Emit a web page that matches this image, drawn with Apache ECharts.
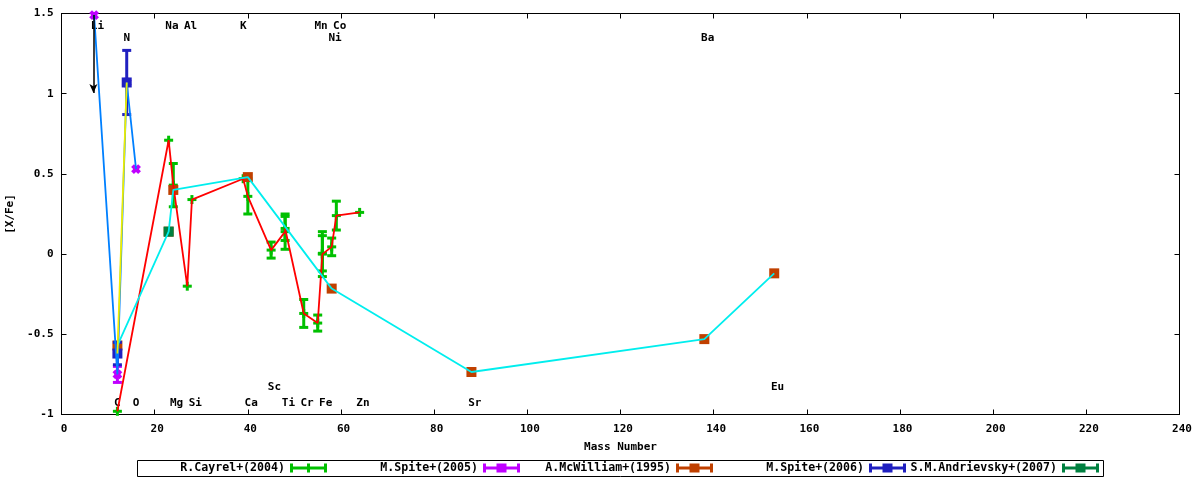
<!DOCTYPE html>
<html><head><meta charset="utf-8">
<script src="https://cdn.jsdelivr.net/npm/echarts@6/dist/echarts.min.js"></script>
<style>html,body{margin:0;padding:0;background:#fff}#c{width:1200px;height:480px}</style>
</head><body><div id="c"></div>
<script>
// ---- data ----
const cayrelMass = [12, 23, 24, 27, 28, 39, 40, 45, 48, 48, 52, 55, 56, 56, 58, 59, 64];
const cayrelVal  = [-0.98, 0.71, 0.43, -0.20, 0.34, 0.47, 0.36, 0.025, 0.14, 0.16, -0.37, -0.43, 0.0, 0.005, 0.045, 0.24, 0.26];
const cayrelErr  = [0, 0, 0.135, 0, 0, 0, 0.11, 0.05, 0.11, 0.075, 0.087, 0.05, 0.14, 0.11, 0.055, 0.09, 0];

const spite05Mass = [7, 12, 14, 16];
const spite05Val  = [1.49, -0.75, 1.07, 0.53];
const spite05Err  = [0, 0.05, 0, 0];

const mcwMass = [12, 23, 24, 40, 58, 88, 138, 153];
const mcwVal  = [-0.57, 0.14, 0.40, 0.48, -0.215, -0.735, -0.53, -0.12];
const mcwErr  = [0, 0, 0, 0, 0, 0, 0, 0];

const spite06Mass = [12, 14];
const spite06Val  = [-0.62, 1.07];
const spite06Err  = [0.07, 0.20];

const andrMass = [23];
const andrVal  = [0.14];
const andrErr  = [0];

// Li upper-limit arrow
const arrowMass = 6.85;
const arrowFrom = 1.49;
const arrowTo = 1.005;

// element labels
const elemNames = ['Li','Na','Al','K','Mn','Co','N','Ni','Ba','C','O','Mg','Si','Ca','Ti','Cr','Fe','Zn','Sr','Sc','Eu'];
const elemMass  = [7, 23, 27, 39, 55, 59, 14, 58, 138, 12, 16, 24, 28, 40, 48, 52, 56, 64, 88, 45, 153];
const elemY     = [1.42,1.42,1.42,1.42,1.42,1.42,1.345,1.345,1.345,-0.93,-0.93,-0.93,-0.93,-0.93,-0.93,-0.93,-0.93,-0.93,-0.93,-0.83,-0.83];

const xTicks = {min: 0, max: 240, interval: 20};
const yTicks = {min: -1, max: 1.5, interval: 0.5};

const seriesNames = ['R.Cayrel+(2004)', 'M.Spite+(2005)', 'A.McWilliam+(1995)', 'M.Spite+(2006)', 'S.M.Andrievsky+(2007)'];

// ---- helpers ----
const FONT = '"DejaVu Sans Mono", "Liberation Mono", monospace';
function zip3(a, b, c) { return a.map((v, i) => [v, b[i], c[i]]); }
function zip2(a, b) { return a.map((v, i) => [v, b[i]]); }

function errRender(shape, color) {
  return function (params, api) {
    const x = api.value(0), y = api.value(1), e = api.value(2);
    const p = api.coord([x, y]);
    const ch = [];
    const st = {stroke: color, lineWidth: 3, fill: null};
    if (e > 0) {
      const pt = api.coord([x, y + e]), pb = api.coord([x, y - e]);
      ch.push({type: 'line', shape: {x1: p[0], y1: pt[1], x2: p[0], y2: pb[1]}, style: st});
      ch.push({type: 'line', shape: {x1: p[0] - 4.5, y1: pt[1], x2: p[0] + 4.5, y2: pt[1]}, style: st});
      ch.push({type: 'line', shape: {x1: p[0] - 4.5, y1: pb[1], x2: p[0] + 4.5, y2: pb[1]}, style: st});
    }
    if (shape === 'plus') {
      ch.push({type: 'rect', shape: {x: p[0] - 4.5, y: p[1] - 1.5, width: 9, height: 3}, style: {fill: color}});
      ch.push({type: 'rect', shape: {x: p[0] - 1.5, y: p[1] - 4.5, width: 3, height: 9}, style: {fill: color}});
    } else if (shape === 'x') {
      ch.push({type: 'line', shape: {x1: p[0] - 3.5, y1: p[1] - 3.5, x2: p[0] + 3.5, y2: p[1] + 3.5}, style: {stroke: color, lineWidth: 4}});
      ch.push({type: 'line', shape: {x1: p[0] - 3.5, y1: p[1] + 3.5, x2: p[0] + 3.5, y2: p[1] - 3.5}, style: {stroke: color, lineWidth: 4}});
      ch.push({type: 'rect', shape: {x: p[0] - 3, y: p[1] - 3, width: 6, height: 6}, style: {fill: color}});
    } else {
      ch.push({type: 'rect', shape: {x: p[0] - 5, y: p[1] - 5, width: 10, height: 10}, style: {fill: color}});
    }
    return {type: 'group', children: ch};
  };
}

function errSeries(name, mass, val, err, shape, color) {
  return {
    name: name, type: 'custom', coordinateSystem: 'cartesian2d',
    xAxisIndex: 0, yAxisIndex: 0, clip: false,
    itemStyle: {color: color},
    encode: {x: 0, y: 1},
    data: zip3(mass, val, err),
    renderItem: errRender(shape, color)
  };
}
function lineSeries(id, mass, val, color, extra) {
  return Object.assign({
    id: id, type: 'line', xAxisIndex: 0, yAxisIndex: 0,
    data: zip2(mass, val), symbol: 'none', clip: false,
    lineStyle: {color: color, width: 1.8}, silent: true
  }, extra || {});
}

const capBar = 'M0,0H3V9H0Z M34,0H37V9H34Z M3,3H34V6H3Z';
const iconPlus = 'path://' + capBar + ' M17,0H20V9H17Z M14,3H23V6H14Z';
const iconSq = 'path://' + capBar + ' M13.5,0H23.5V9H13.5Z';
const legendColors = ['#00c000', '#c000ff', '#c04000', '#2020c0', '#008040'];
const legendIcons = [iconPlus, iconSq, iconSq, iconSq, iconSq];
const legendRight = [327, 520, 713, 906, 1099];

const legends = seriesNames.map((n, i) => ({
  data: [{name: n, icon: legendIcons[i], itemStyle: {color: legendColors[i], borderWidth: 0}}],
  right: 1200 - legendRight[i], top: 462, align: 'right', orient: 'horizontal',
  padding: 0, itemWidth: 37, itemHeight: 9, selectedMode: false,
  textStyle: {fontFamily: FONT, fontWeight: 'bold', fontSize: 11.6, color: '#000'}
}));

const axisCommon = {
  type: 'value', splitLine: {show: false},
  axisLine: {show: true, onZero: false, lineStyle: {color: '#000', width: 1}},
  axisTick: {show: true, inside: true, length: 5, lineStyle: {color: '#000', width: 1}}
};

const option = {
  animation: false,
  backgroundColor: '#fff',
  grid: {left: 61.5, right: 20.5, top: 13.5, bottom: 65.5, containLabel: false, outerBoundsMode: 'none'},
  legend: legends,
  xAxis: [
    Object.assign({}, axisCommon, {
      position: 'bottom', min: xTicks.min, max: xTicks.max, interval: xTicks.interval,
      axisLabel: {fontFamily: FONT, fontWeight: 'bold', fontSize: 11, color: '#000', margin: 9, padding: [0, 0, 0, 5]},
      name: 'Mass Number', nameLocation: 'middle', nameGap: 27,
      nameTextStyle: {fontFamily: FONT, fontWeight: 'bold', fontSize: 11, color: '#000'}
    }),
    Object.assign({}, axisCommon, {
      position: 'top', min: xTicks.min, max: xTicks.max, interval: xTicks.interval,
      axisLabel: {show: false}
    })
  ],
  yAxis: [
    Object.assign({}, axisCommon, {
      position: 'left', min: yTicks.min, max: yTicks.max, interval: yTicks.interval,
      axisLabel: {fontFamily: FONT, fontWeight: 'bold', fontSize: 11, color: '#000', margin: 8},
      name: '[X/Fe]', nameLocation: 'middle', nameGap: 43, nameRotate: 90,
      nameTextStyle: {fontFamily: FONT, fontWeight: 'bold', fontSize: 11, color: '#000'}
    }),
    Object.assign({}, axisCommon, {
      position: 'right', min: yTicks.min, max: yTicks.max, interval: yTicks.interval,
      axisLabel: {show: false}
    })
  ],
  graphic: [{
    type: 'rect', silent: true, z: 0,
    shape: {x: 137.5, y: 460.5, width: 966, height: 16},
    style: {fill: null, stroke: '#000', lineWidth: 1}
  }],
  series: [
    {
      id: 'labels', type: 'custom', coordinateSystem: 'cartesian2d', clip: false, silent: true,
      encode: {x: 0, y: 1},
      data: elemMass.map((m, i) => [m, elemY[i], i]),
      renderItem: function (params, api) {
        const p = api.coord([api.value(0), api.value(1)]);
        return {type: 'text', x: p[0] - 3.3, y: p[1], style: {
          text: elemNames[api.value(2)], fill: '#000',
          font: 'bold 11px ' + FONT, align: 'left', verticalAlign: 'middle'}};
      }
    },
    lineSeries('cayrelLine', cayrelMass, cayrelVal, '#ff0000'),
    errSeries(seriesNames[0], cayrelMass, cayrelVal, cayrelErr, 'plus', '#00c000'),
    lineSeries('spite05Line', spite05Mass, spite05Val, '#0080ff', {
      markLine: {
        silent: true, symbol: ['none', 'arrow'], symbolSize: [6, 9], animation: false,
        label: {show: false}, lineStyle: {color: '#000', width: 1.5, type: 'solid'},
        data: [[{coord: [arrowMass, arrowFrom]}, {coord: [arrowMass, arrowTo]}]]
      }
    }),
    errSeries(seriesNames[1], spite05Mass, spite05Val, spite05Err, 'x', '#c000ff'),
    lineSeries('mcwLine', mcwMass, mcwVal, '#00eeee'),
    errSeries(seriesNames[2], mcwMass, mcwVal, mcwErr, 'square', '#c04000'),
    lineSeries('spite06Line', spite06Mass, spite06Val, '#eeee00'),
    errSeries(seriesNames[3], spite06Mass, spite06Val, spite06Err, 'square', '#2020c0'),
    errSeries(seriesNames[4], andrMass, andrVal, andrErr, 'square', '#008040')
  ]
};

const chart = echarts.init(document.getElementById('c'), null, {renderer: 'canvas'});
chart.setOption(option);
</script>
</body></html>
